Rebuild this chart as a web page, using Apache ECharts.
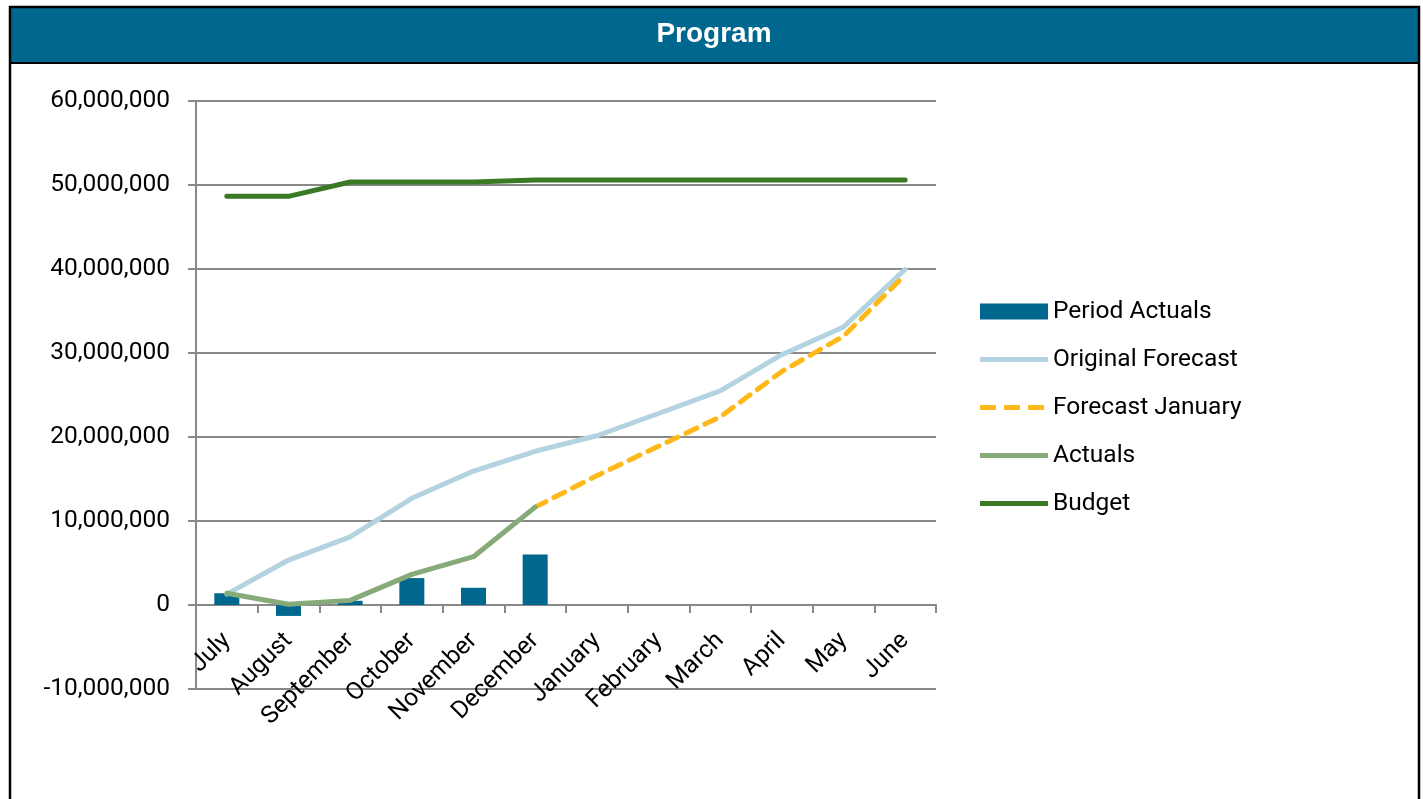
<!DOCTYPE html>
<html>
<head>
<meta charset="utf-8">
<title>Program</title>
<script src="https://cdn.jsdelivr.net/npm/echarts@6/dist/echarts.min.js"></script>
<style>
  html, body { margin: 0; padding: 0; background: #fff; }
  #chart { width: 1423px; height: 799px; }
</style>
</head>
<body>
<div id="chart"></div>
<script>
// data
const months = ['July', 'August', 'September', 'October', 'November', 'December',
  'January', 'February', 'March', 'April', 'May', 'June']
const periodActuals = [1.4e6, -1.3e6, 0.5e6, 3.2e6, 2.05e6, 6.0e6, null, null, null, null, null, null]
const originalForecast = [1.3e6, 5.35e6, 8.1e6, 12.7e6, 15.95e6, 18.3e6, 20.15e6, 22.8e6, 25.5e6, 29.8e6, 33.1e6, 39.95e6]
const forecastJanuary = [null, null, null, null, null, 11.65e6, 15.4e6, 18.9e6, 22.4e6, 27.8e6, 32.0e6, 39.3e6]
const actuals = [1.4e6, 0.08e6, 0.55e6, 3.65e6, 5.75e6, 11.65e6, null, null, null, null, null, null]
const budget = [48.65e6, 48.65e6, 50.36e6, 50.36e6, 50.36e6, 50.6e6, 50.6e6, 50.6e6, 50.6e6, 50.6e6, 50.6e6, 50.6e6]
const yTicks = { min: -10e6, max: 60e6, step: 10e6 }

const font = 'Roboto, "Open Sans", sans-serif'
const fontSize = 24.5
const chart = echarts.init(document.getElementById('chart'))

// legend icons drawn as thick strokes, like the spreadsheet legend
const solidIcon = 'path://M0,0H68V5H0Z'
const dashIcon = 'path://M0,0H16V5H0Z M24,0H40V5H24Z M48,0H64V5H48Z M67.9,0H68V5H67.9Z'

const option = {
  animation: false,
  backgroundColor: '#fff',
  title: {
    text: 'Program',
    left: 709,
    top: 15,
    textAlign: 'center',
    textStyle: { color: '#fff', fontSize: 28, fontWeight: 'bold', fontFamily: 'Arial, "Liberation Sans", sans-serif' }
  },
  graphic: [
    { type: 'rect', z: -10, shape: { x: 10, y: 7, width: 1409, height: 56 }, style: { fill: '#00678F' } },
    { type: 'line', z: 10, shape: { x1: 10, y1: 63, x2: 1419, y2: 63 }, style: { stroke: '#000', lineWidth: 2 } },
    { type: 'rect', z: 10, shape: { x: 10, y: 7, width: 1409, height: 800 }, style: { fill: null, stroke: '#000', lineWidth: 2.5 } }
  ],
  legend: {
    orient: 'vertical',
    left: 980,
    top: 299,
    padding: 0,
    itemWidth: 68,
    itemHeight: 16,
    itemGap: 23,
    textStyle: { fontSize: fontSize, fontFamily: font, color: '#000' },
    data: [
      { name: 'Period Actuals', icon: 'rect' },
      { name: 'Original Forecast', icon: solidIcon },
      { name: 'Forecast January', icon: dashIcon },
      { name: 'Actuals', icon: solidIcon },
      { name: 'Budget', icon: solidIcon }
    ]
  },
  grid: { left: 196, top: 101, width: 740, height: 588 },
  xAxis: {
    type: 'category',
    data: months,
    offset: -84,
    axisLine: { onZero: false, lineStyle: { color: '#898989', width: 2 } },
    axisTick: { show: true, length: 8, lineStyle: { color: '#898989', width: 2 } },
    axisLabel: { rotate: 45, margin: 32, fontSize: fontSize, fontFamily: font, color: '#000', interval: 0 }
  },
  yAxis: {
    type: 'value',
    min: yTicks.min,
    max: yTicks.max,
    interval: yTicks.step,
    axisLine: { show: true, lineStyle: { color: '#898989', width: 2 } },
    axisTick: { show: true, length: 8, lineStyle: { color: '#898989', width: 2 } },
    splitLine: { lineStyle: { color: '#898989', width: 2 } },
    axisLabel: {
      margin: 26, fontSize: fontSize, fontFamily: font, color: '#000',
      formatter: v => v.toLocaleString('en-US')
    }
  },
  series: [
    {
      name: 'Period Actuals', type: 'bar', data: periodActuals, barWidth: 25,
      itemStyle: { color: '#00678F' }
    },
    {
      name: 'Original Forecast', type: 'line', data: originalForecast, symbol: 'none',
      lineStyle: { color: '#B4D3E1', width: 5, cap: 'round', join: 'round' },
      itemStyle: { color: '#B4D3E1' }
    },
    {
      name: 'Forecast January', type: 'line', data: forecastJanuary, symbol: 'none',
      lineStyle: { color: '#FFB819', width: 5, type: [12, 9], cap: 'round', join: 'round' },
      itemStyle: { color: '#FFB819' }
    },
    {
      name: 'Actuals', type: 'line', data: actuals, symbol: 'none',
      lineStyle: { color: '#86AB78', width: 5, cap: 'round', join: 'round' },
      itemStyle: { color: '#86AB78' }
    },
    {
      name: 'Budget', type: 'line', data: budget, symbol: 'none',
      lineStyle: { color: '#3A7A25', width: 5, cap: 'round', join: 'round' },
      itemStyle: { color: '#3A7A25' }
    }
  ]
}

chart.setOption(option)
</script>
</body>
</html>
